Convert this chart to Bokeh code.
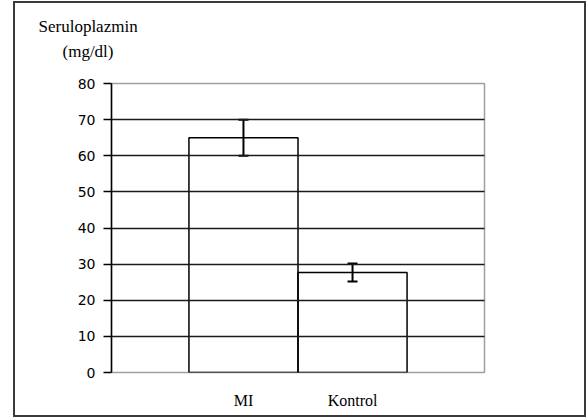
import numpy as np
from bokeh.plotting import figure
from bokeh.models import (ColumnDataSource, Range1d, FixedTicker, Whisker, TeeHead, Title)
from bokeh.embed import file_html
from bokeh.resources import INLINE

# ---- data ----
categories = ["MI", "Kontrol"]
means = [65.0, 27.7]
errors = [5.0, 2.5]
y_ticks = [0, 10, 20, 30, 40, 50, 60, 70, 80]
y_label_lines = ["Seruloplazmin", "(mg/dl)"]

xs = list(range(len(categories)))
src = ColumnDataSource(dict(
    x=xs, top=means,
    upper=[m + e for m, e in zip(means, errors)],
    lower=[m - e for m, e in zip(means, errors)],
))

pad = 0.71
x_start, x_end = -0.5 - pad, len(categories) - 0.5 + pad

p = figure(width=573, height=416, output_backend="svg", toolbar_location=None,
           x_range=Range1d(x_start, x_end), y_range=Range1d(0, 80), title=None,
           min_border_left=96, min_border_right=104, min_border_top=80, min_border_bottom=47)
p.styles = {"margin-left": "13px", "margin-top": "1px",
            "border": "2px solid #3a3a3a"}

p.background_fill_color = "white"
p.border_fill_color = "white"
p.outline_line_color = "#a0a0a0"
p.outline_line_width = 1.5

p.vbar(x="x", top="top", bottom=0, width=1.0, source=src,
       fill_color=None, line_color="black", line_width=1.5)

w = Whisker(base="x", upper="upper", lower="lower", source=src,
            line_color="black", line_width=2,
            upper_head=TeeHead(size=10, line_color="black", line_width=2),
            lower_head=TeeHead(size=10, line_color="black", line_width=2))
p.add_layout(w)

# y axis
p.yaxis.ticker = FixedTicker(ticks=y_ticks)
p.yaxis.axis_line_color = "black"
p.yaxis.axis_line_width = 1.5
p.yaxis.major_tick_line_color = "black"
p.yaxis.major_tick_line_width = 1.5
p.yaxis.major_tick_out = 8
p.yaxis.major_tick_in = 0
p.yaxis.minor_tick_line_color = None
p.yaxis.major_label_standoff = 8
p.yaxis.major_label_text_font = "DejaVu Sans"
p.yaxis.major_label_text_font_size = "14px"
p.yaxis.major_label_text_color = "black"

# x axis
p.xaxis.ticker = FixedTicker(ticks=xs)
p.xaxis.major_label_overrides = {i: c for i, c in zip(xs, categories)}
p.xaxis.axis_line_color = None
p.xaxis.major_tick_line_color = None
p.xaxis.minor_tick_line_color = None
p.xaxis.major_label_standoff = 13
p.xaxis.major_label_text_font = "Liberation Serif"
p.xaxis.major_label_text_font_size = "16px"
p.xaxis.major_label_text_color = "black"

# grid
p.xgrid.grid_line_color = None
p.ygrid.ticker = FixedTicker(ticks=y_ticks[1:-1])
p.ygrid.grid_line_color = "#1a1a1a"
p.ygrid.grid_line_width = 1.5
p.ygrid.level = "overlay"

# axis title: two lines above the y axis (nearest to frame added first)
title_style = dict(text_font="Liberation Serif", text_font_size="17px",
                   text_font_style="normal", text_color="black")
p.add_layout(Title(text=" ", align="left", standoff=0, **title_style), "above")
p.add_layout(Title(text=y_label_lines[1], align="left", offset=-49, standoff=4,
                   **title_style), "above")
p.add_layout(Title(text=y_label_lines[0], align="left", offset=-73, standoff=4,
                   **title_style), "above")

open("out.html", "w").write(file_html(p, INLINE))
